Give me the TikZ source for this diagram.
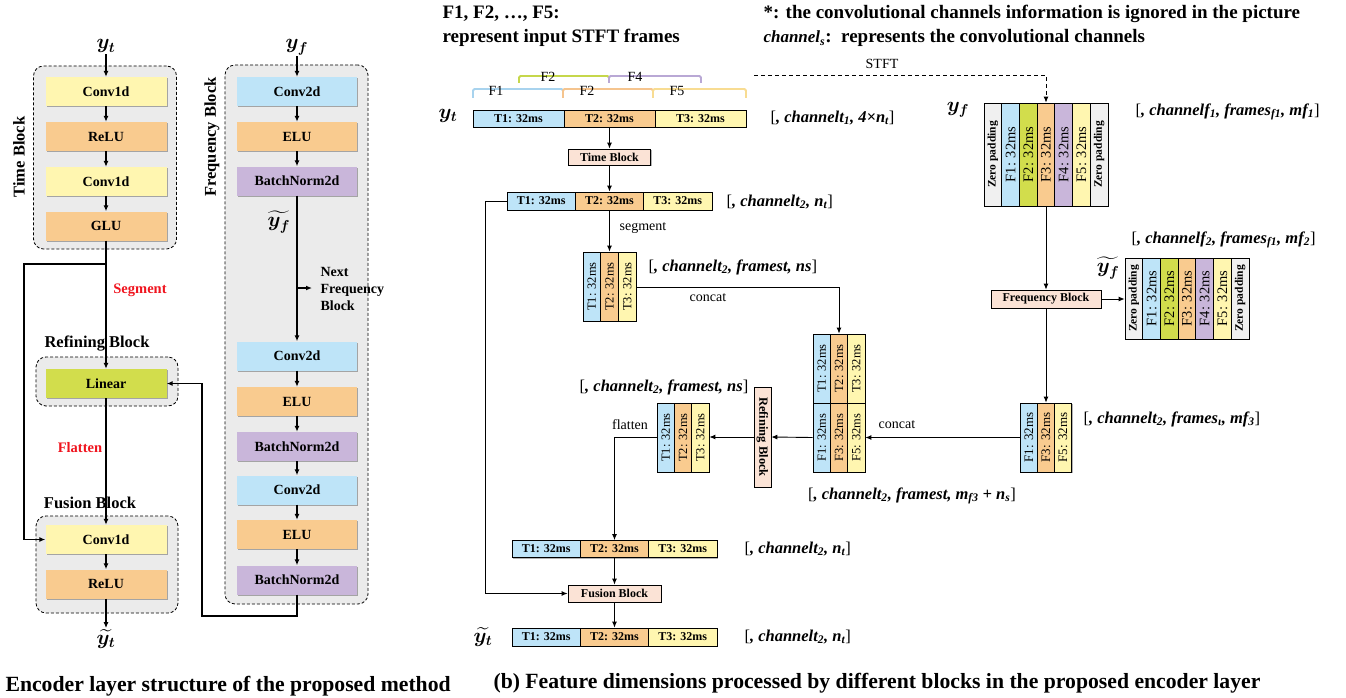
\documentclass[tikz,border=0pt]{standalone}
\usepackage{fontspec}
\setmainfont{Liberation Serif}
\usepackage{amsmath}
\usepackage{bm}
\usetikzlibrary{arrows.meta,shadows}

\definecolor{cblue}{HTML}{BEE4F8}
\definecolor{corange}{HTML}{F9CB8F}
\definecolor{cyellow}{HTML}{FFF6B0}
\definecolor{cpurple}{HTML}{C9B6DA}
\definecolor{cgreen}{HTML}{D2DD4C}
\definecolor{cgray}{HTML}{EBEBEB}
\definecolor{cpeach}{HTML}{FBE3D6}
\definecolor{czero}{HTML}{F0F0F0}
\definecolor{cred}{HTML}{F0141E}
\definecolor{bblue}{HTML}{A8D3EE}
\definecolor{bgreen}{HTML}{C6D74B}
\definecolor{bpurple}{HTML}{B9A8D5}
\definecolor{borange}{HTML}{F5C48E}
\definecolor{byellow}{HTML}{F8DC92}

\newcommand{\fsz}[1]{\fontsize{#1}{#1}\selectfont}
\newcommand{\bi}[1]{{\bfseries\itshape #1}}
\newcommand{\bsb}[1]{\textsubscript{\bfseries\itshape #1}}
\newcommand{\dimlab}[1]{[\bi{, #1}]}
\newcommand{\vt}[1]{\rotatebox{90}{#1}}

\begin{document}
\begin{tikzpicture}[x=1pt,y=-1pt,
  shad/.style={drop shadow={shadow xshift=1.4pt,shadow yshift=-1.4pt,fill=black,opacity=0.3}},
  layer/.style={shad,inner sep=0pt,minimum width=121pt,minimum height=29pt,font=\fsz{14}\bfseries},
  flayer/.style={layer,minimum width=120pt},
  cont/.style={draw,dash pattern=on 3pt off 2pt,line width=0.8pt,rounded corners=10pt,fill=cgray,inner sep=0pt},
  arr/.style={line width=1.3pt,-{Latex[length=6pt,width=5pt]}},
  arrb/.style={line width=0.9pt,-{Latex[length=6pt,width=5pt]}},
  lnb/.style={line width=0.9pt},
  hcell/.style={shad,draw,line width=0.8pt,inner sep=0pt,font=\fsz{12}\bfseries},
  vcell/.style={shad,draw,line width=0.8pt,inner sep=0pt,font=\fsz{12.5}},
  pcell/.style={shad,draw,line width=0.8pt,inner sep=0pt,font=\fsz{14.5}},
  zcell/.style={pcell,fill=czero,font=\fsz{11.5}\bfseries},
  brace/.style={line width=1.8pt,rounded corners=1.5pt},
  note/.style={font=\fsz{14}},
  bnote/.style={font=\fsz{16.5}\bfseries},
  rnote/.style={font=\fsz{14.5}\bfseries,text=cred},
  dimtxt/.style={anchor=west,font=\fsz{16.5}},
  headtxt/.style={anchor=west,font=\fsz{19}\bfseries},
  captxt/.style={anchor=west,font=\fsz{21.7}\bfseries},
  sym/.style={font=\fsz{22},inner sep=1pt},
  ssym/.style={font=\fsz{20},inner sep=0pt},
]
\useasboundingbox[fill=white] (0,0) rectangle (1346,698);

% ---------------- (a) encoder layer structure ----------------
% time block
\node[cont,minimum width=143pt,minimum height=183pt] (tcont) at (105,157.5) {};
\node[layer,fill=cyellow] (tc1) at (106,91.5) {Conv1d};
\node[layer,fill=corange] (tr1) at (106,136.5) {ReLU};
\node[layer,fill=cyellow] (tc2) at (106,181.5) {Conv1d};
\node[layer,fill=corange] (tglu) at (106,226) {GLU};
\node[bnote,rotate=90] (tlab) at (19,157) {Time Block};
\node[sym,anchor=base] (yt) at (106,49) {$\bm{y_t}$};
\draw[arr] (yt.south) -- (tc1.north);
\draw[arr] (tc1) -- (tr1);
\draw[arr] (tr1) -- (tc2);
\draw[arr] (tc2) -- (tglu);

% refining block
\node[cont,minimum width=142pt,minimum height=49pt] (rcont) at (107,381.5) {};
\node[layer,fill=cgreen] (lin) at (106,383.5) {Linear};
\node[bnote] (rlab) at (97,344) {Refining Block};

% fusion block
\node[cont,minimum width=142pt,minimum height=97pt] (fcont) at (107,564.5) {};
\node[layer,fill=cyellow] (fc1) at (106,539.5) {Conv1d};
\node[layer,fill=corange] (fr1) at (106,584) {ReLU};
\node[bnote] (flab) at (90,503) {Fusion Block};
\node[sym] (fyt) at (106,639) {$\bm{\widetilde{y_t}}$};

\node[rnote] (seglab) at (140,290) {Segment};
\node[rnote] (flatlab) at (80,448) {Flatten};

\coordinate (segbr) at (106,264);
\draw[arr] (tglu) -- (lin);
\draw[arr] (segbr) -- (24,264) -- (24,539.5) -- (fc1.west);
\draw[arr] (lin) -- (fc1);
\draw[arr] (fc1) -- (fr1);
\draw[arr] (fr1.south) -- (fyt.north);

% frequency block
\node[cont,minimum width=143pt,minimum height=539pt] (qcont) at (296.5,334.5) {};
\node[bnote,rotate=90] (qlab) at (212,137) {Frequency Block};
\node[flayer,fill=cblue] (qc1) at (297,91.5) {Conv2d};
\node[flayer,fill=corange] (qe1) at (297,136.5) {ELU};
\node[flayer,fill=cpurple] (qb1) at (297,181) {BatchNorm2d};
\node[flayer,fill=cblue] (qc2) at (297,356) {Conv2d};
\node[flayer,fill=corange] (qe2) at (297,401.5) {ELU};
\node[flayer,fill=cpurple] (qb2) at (297,446.5) {BatchNorm2d};
\node[flayer,fill=cblue] (qc3) at (297,490) {Conv2d};
\node[flayer,fill=corange] (qe3) at (297,534.5) {ELU};
\node[flayer,fill=cpurple] (qb3) at (297,580) {BatchNorm2d};
\node[sym,anchor=base] (yf) at (297,49) {$\bm{y_f}$};
\node[ssym] (yfh) at (279,222) {$\bm{\widetilde{y_f}}$};
\node[anchor=west,align=left,font=\fontsize{14}{17}\selectfont\bfseries] (nfl) at (317,289) {Next\\Frequency\\Block};
\coordinate (nfa) at (297,288);
\coordinate (nfb) at (312,288);
\coordinate (loopa) at (297,616);

\draw[arr] (yf.south) -- (qc1.north);
\draw[arr] (qc1) -- (qe1);
\draw[arr] (qe1) -- (qb1);
\draw[arr] (qb1) -- (qc2);
\draw[arr] (nfa) -- (nfb);
\draw[arr] (qc2) -- (qe2);
\draw[arr] (qe2) -- (qb2);
\draw[arr] (qb2) -- (qc3);
\draw[arr] (qc3) -- (qe3);
\draw[arr] (qe3) -- (qb3);
\draw[arr] (qb3.south) -- (loopa) -- (202,616) -- (202,383.5) -- (lin.east);

\node[captxt] (capa) at (2,686) {Encoder layer structure of the proposed method};

% ---------------- (b) feature dimensions ----------------
\node[headtxt] (h1) at (439,14) {F1, F2, …, F5:};
\node[headtxt] (h2) at (439,38) {represent input STFT frames};
\node[headtxt] (h3) at (760,14) {*: the convolutional channels information is ignored in the picture};
\node[headtxt] (h4) at (760,38) {{\fsz{17}\bi{channel}\bsb{s}}:\ \ represents the convolutional channels};

% frame brackets over the time signal
\draw[brace,draw=bgreen] (519,83) -- (519,76) -- (609,76) -- (609,83);
\draw[brace,draw=bpurple] (609,83) -- (609,76) -- (701,76) -- (701,83);
\draw[brace,draw=bblue] (473,98) -- (473,89) -- (563,89) -- (563,98);
\draw[brace,draw=borange] (563,98) -- (563,89) -- (653,89) -- (653,98);
\draw[brace,draw=byellow] (653,98) -- (653,89) -- (746,89) -- (746,98);
\node[note] (fb2) at (548,77) {F2};
\node[note] (fb4) at (635,77) {F4};
\node[note] (fb1) at (496,91) {F1};
\node[note] (fb2b) at (587,91) {F2};
\node[note] (fb5) at (677,91) {F5};

% input time signal
\node[sym] (ytr) at (448,116) {$\bm{y_t}$};
\node[hcell,fill=cblue,minimum width=91pt,minimum height=17pt] (a1) at (518.5,118.5) {T1: 32ms};
\node[hcell,fill=corange,minimum width=91pt,minimum height=17pt] (a2) at (609.5,118.5) {T2: 32ms};
\node[hcell,fill=cyellow,minimum width=91pt,minimum height=17pt] (a3) at (700.5,118.5) {T3: 32ms};
\node[dimtxt] (d1) at (767,118) {\dimlab{channelt\bsb{1}, 4×n\bsb{t}}};

\node[hcell,fill=cpeach,minimum width=82pt,minimum height=16pt] (tb) at (609.5,157) {Time Block};

\node[hcell,fill=cblue,minimum width=68.33pt,minimum height=18pt] (b1) at (541.2,201) {T1: 32ms};
\node[hcell,fill=corange,minimum width=68.33pt,minimum height=18pt] (b2) at (609.5,201) {T2: 32ms};
\node[hcell,fill=cyellow,minimum width=68.33pt,minimum height=18pt] (b3) at (677.8,201) {T3: 32ms};
\node[dimtxt] (d2) at (723,202) {\dimlab{channelt\bsb{2}, n\bsb{t}}};

\draw[arrb] (a2) -- (tb);
\draw[arrb] (tb) -- (b2);

% segmented frames
\node[vcell,fill=cblue,minimum width=17.67pt,minimum height=69pt] (s1) at (591.8,286.5) {\vt{T1: 32ms}};
\node[vcell,fill=corange,minimum width=17.67pt,minimum height=69pt] (s2) at (609.5,286.5) {\vt{T2: 32ms}};
\node[vcell,fill=cyellow,minimum width=17.67pt,minimum height=69pt] (s3) at (627.2,286.5) {\vt{T3: 32ms}};
\node[dimtxt] (d3) at (645,267) {\dimlab{channelt\bsb{2}, framest, ns}};
\node[note] (seg) at (643,228) {segment};
\draw[arrb] (b2) -- (s2);

% concatenated time and frequency frames
\node[vcell,fill=cblue,minimum width=17.33pt,minimum height=69pt] (c1) at (821.7,368.5) {\vt{T1: 32ms}};
\node[vcell,fill=corange,minimum width=17.33pt,minimum height=69pt] (c2) at (839,368.5) {\vt{T2: 32ms}};
\node[vcell,fill=cyellow,minimum width=17.33pt,minimum height=69pt] (c3) at (856.3,368.5) {\vt{T3: 32ms}};
\node[vcell,fill=cblue,minimum width=17.33pt,minimum height=69pt] (c4) at (821.7,437.5) {\vt{F1: 32ms}};
\node[vcell,fill=corange,minimum width=17.33pt,minimum height=69pt] (c5) at (839,437.5) {\vt{F3: 32ms}};
\node[vcell,fill=cyellow,minimum width=17.33pt,minimum height=69pt] (c6) at (856.3,437.5) {\vt{F5: 32ms}};
\node[font=\fsz{16.5}] (d10) at (912,496) {\dimlab{channelt\bsb{2}, framest, m\bsb{f3} + n\bsb{s}}};
\node[note] (cc1) at (708,298) {concat};
\node[note] (cc2) at (897,425) {concat};
\coordinate (cbend) at (839,287);
\draw[lnb] (s3.east |- cbend) -- (cbend);
\draw[arrb] (cbend) -- (c2.north);

% refining block
\node[shad,draw,line width=0.8pt,fill=cpeach,inner sep=0pt,minimum width=17pt,minimum height=100pt,font=\fsz{12.5}\bfseries] (rb) at (762.5,437) {\rotatebox{-90}{Refining Block}};
\draw[arrb] (c4.west) -- (rb.east);

% refined frames
\node[vcell,fill=cblue,minimum width=17.33pt,minimum height=69pt] (r1) at (665.7,437.5) {\vt{T1: 32ms}};
\node[vcell,fill=corange,minimum width=17.33pt,minimum height=69pt] (r2) at (683,437.5) {\vt{T2: 32ms}};
\node[vcell,fill=cyellow,minimum width=17.33pt,minimum height=69pt] (r3) at (700.3,437.5) {\vt{T3: 32ms}};
\node[font=\fsz{16.5}] (d4) at (664,387) {\dimlab{channelt\bsb{2}, framest, ns}};
\node[note] (flt) at (630,425) {flatten};
\draw[arrb] (rb.west) -- (r3.east |- rb.west);

% flattened output and fusion
\node[hcell,fill=cblue,minimum width=68.33pt,minimum height=17pt] (e1) at (546.2,549) {T1: 32ms};
\node[hcell,fill=corange,minimum width=68.33pt,minimum height=17pt] (e2) at (614.5,549) {T2: 32ms};
\node[hcell,fill=cyellow,minimum width=68.33pt,minimum height=17pt] (e3) at (682.8,549) {T3: 32ms};
\node[dimtxt] (d5) at (741,549) {\dimlab{channelt\bsb{2}, n\bsb{t}}};
\coordinate (fbend) at (614.5,437);
\draw[lnb] (r1.west |- fbend) -- (fbend);
\draw[arrb] (fbend) -- (e2.north);

\node[hcell,fill=cpeach,minimum width=93pt,minimum height=17pt] (fu) at (614.5,593.5) {Fusion Block};
\draw[arrb] (e2) -- (fu);
\draw[arrb] (b1.west) -- (485,201) -- (485,593.5) -- (fu.west);

\node[hcell,fill=cblue,minimum width=68.33pt,minimum height=18pt] (g1) at (546.2,637) {T1: 32ms};
\node[hcell,fill=corange,minimum width=68.33pt,minimum height=18pt] (g2) at (614.5,637) {T2: 32ms};
\node[hcell,fill=cyellow,minimum width=68.33pt,minimum height=18pt] (g3) at (682.8,637) {T3: 32ms};
\node[ssym] (ytt) at (483,637) {$\bm{\widetilde{y_t}}$};
\node[dimtxt] (d6) at (741,637) {\dimlab{channelt\bsb{2}, n\bsb{t}}};
\draw[arrb] (fu) -- (g2);

% STFT frames
\node[zcell,minimum width=17.71pt,minimum height=103pt] (p0) at (992.9,154.5) {\vt{Zero padding}};
\node[pcell,fill=cblue,minimum width=17.71pt,minimum height=103pt] (p1) at (1010.6,154.5) {\vt{F1: 32ms}};
\node[pcell,fill=cgreen,minimum width=17.71pt,minimum height=103pt] (p2) at (1028.3,154.5) {\vt{F2: 32ms}};
\node[pcell,fill=corange,minimum width=17.71pt,minimum height=103pt] (p3) at (1046,154.5) {\vt{F3: 32ms}};
\node[pcell,fill=cpurple,minimum width=17.71pt,minimum height=103pt] (p4) at (1063.7,154.5) {\vt{F4: 32ms}};
\node[pcell,fill=cyellow,minimum width=17.71pt,minimum height=103pt] (p5) at (1081.4,154.5) {\vt{F5: 32ms}};
\node[zcell,minimum width=17.71pt,minimum height=103pt] (p6) at (1099.1,154.5) {\vt{Zero padding}};
\node[sym] (yfr) at (958,110) {$\bm{y_f}$};
\node[dimtxt] (d7) at (1132,112) {\dimlab{channelf\bsb{1}, frames\bsb{f1}, mf\bsb{1}}};

\coordinate (stft0) at (754,75);
\node[note] (stl) at (882,64) {STFT};
\draw[lnb,dash pattern=on 4pt off 3pt,-{Latex[length=6pt,width=5pt]}] (stft0) -- (1046,75) -- (p3.north);

% frequency block
\node[hcell,fill=cpeach,minimum width=110pt,minimum height=18pt] (qb) at (1046,299) {Frequency Block};
\draw[arrb] (p3) -- (qb);

\node[zcell,minimum width=17.71pt,minimum height=81pt] (q0) at (1133.9,298.5) {\vt{Zero padding}};
\node[pcell,fill=cblue,minimum width=17.71pt,minimum height=81pt] (q1) at (1151.6,298.5) {\vt{F1: 32ms}};
\node[pcell,fill=cgreen,minimum width=17.71pt,minimum height=81pt] (q2) at (1169.3,298.5) {\vt{F2: 32ms}};
\node[pcell,fill=corange,minimum width=17.71pt,minimum height=81pt] (q3) at (1187,298.5) {\vt{F3: 32ms}};
\node[pcell,fill=cpurple,minimum width=17.71pt,minimum height=81pt] (q4) at (1204.7,298.5) {\vt{F4: 32ms}};
\node[pcell,fill=cyellow,minimum width=17.71pt,minimum height=81pt] (q5) at (1222.4,298.5) {\vt{F5: 32ms}};
\node[zcell,minimum width=17.71pt,minimum height=81pt] (q6) at (1240.1,298.5) {\vt{Zero padding}};
\node[ssym] (yfrh) at (1108,268) {$\bm{\widetilde{y_f}}$};
\node[dimtxt] (d8) at (1128,240) {\dimlab{channelf\bsb{2}, frames\bsb{f1}, mf\bsb{2}}};
\draw[arrb] (qb.east) -- (q0.west |- qb.east);

% selected frequency frames
\node[vcell,fill=cblue,minimum width=17pt,minimum height=69pt,font=\fsz{13}] (k1) at (1029,437.5) {\vt{F1: 32ms}};
\node[vcell,fill=corange,minimum width=17pt,minimum height=69pt,font=\fsz{13}] (k2) at (1046,437.5) {\vt{F3: 32ms}};
\node[vcell,fill=cyellow,minimum width=17pt,minimum height=69pt,font=\fsz{13}] (k3) at (1063,437.5) {\vt{F5: 32ms}};
\node[dimtxt] (d9) at (1080,419) {\dimlab{channelt\bsb{2}, frames\bsb{ι}, mf\bsb{3}}};
\draw[arrb] (qb) -- (k2);
\draw[arrb] (k1.west) -- (c6.east);

\node[captxt] (capb) at (490,683) {(b) Feature dimensions processed by different blocks in the proposed encoder layer};
\end{tikzpicture}
\end{document}
